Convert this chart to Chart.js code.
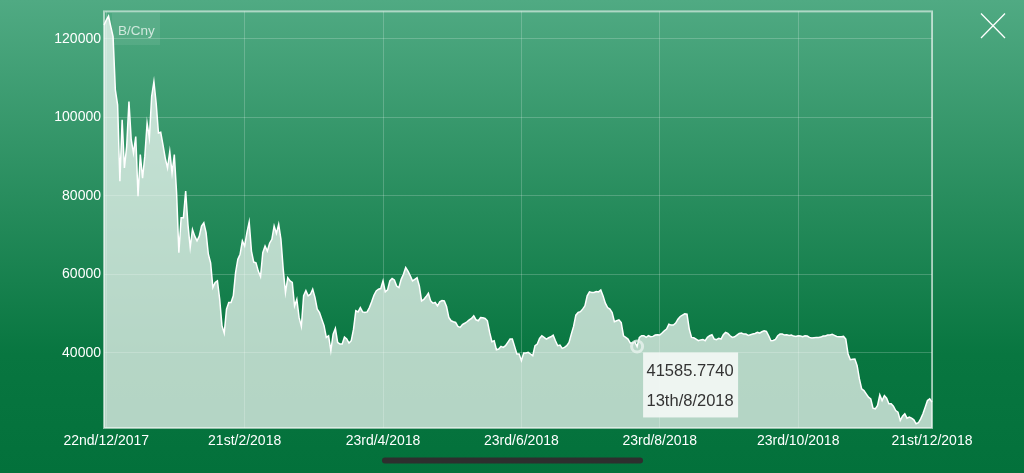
<!DOCTYPE html>
<html>
<head>
<meta charset="utf-8">
<script src="https://cdn.jsdelivr.net/npm/chart.js@4.4.0/dist/chart.umd.min.js"></script>
<style>
html, body { margin: 0; padding: 0; }
body {
    width: 1024px; height: 473px; overflow: hidden;
    background: linear-gradient(to bottom, #50aa83 0%, #087640 75%, #03713b 100%);
}
#wrap { position: relative; width: 1024px; height: 473px; }
</style>
</head>
<body>
<div id="wrap"><canvas id="myChart"></canvas></div>
<script>
// 일별 가격 (B/Cny), 21/12/2017 부터 하루씩
const prices = [
    123500, 124800, 125800, 123100, 120600, 107000, 103200, 83700, 99400, 87100,
    92600, 104000, 94300, 90900, 95100, 79900, 90500, 84500, 90100, 98500,
    94700, 105300, 109100, 103600, 96000, 96200, 93000, 89600, 87100, 91300,
    85800, 90500, 80700, 65500, 74400, 74400, 81200, 72700, 66800, 71400,
    69700, 68500, 69700, 72300, 73100, 70600, 65100, 62900, 56600, 57900,
    58300, 53600, 46900, 45000, 51100, 52800, 52800, 54500, 60400, 63800,
    65100, 68500, 67200, 70600, 73300, 65900, 63100, 62900, 60800, 59400,
    65500, 67200, 65900, 67900, 68900, 72300, 70400, 72700, 68900, 61300,
    55300, 59100, 58300, 57900, 51900, 53600, 49000, 46700, 54500, 55800,
    54500, 54900, 56200, 54100, 51100, 50200, 48550, 46900, 43900, 44300,
    40500, 44700, 46200, 42600, 42200, 42200, 44000, 43500, 42450, 43050,
    46000, 50700, 50400, 51500, 50400, 50250, 50400, 51500, 52960, 54650,
    55750, 56180, 56350, 58300, 55500, 56000, 58300, 58900, 58550, 57000,
    56600, 58700, 60000, 61700, 60800, 59600, 58300, 58700, 59100, 57000,
    53200, 53600, 54300, 55150, 53200, 52620, 52800, 51950, 52960, 53300,
    53200, 51770, 48980, 48130, 47880, 47700, 46690, 46440, 47150, 47500,
    47880, 48380, 48720, 49400, 48380, 48130, 48980, 48890, 48720, 48130,
    45170, 42790, 43050, 40760, 40930, 41610, 41350, 41780, 42620, 43470,
    43470, 41610, 39660, 39660, 37970, 39910, 39910, 40080, 39660, 39240,
    41780, 42200, 43640, 44320, 43900, 43470, 43810, 44060, 44490, 43050,
    41780, 41950, 41100, 41350, 41780, 42620, 44740, 46690, 49570, 50250,
    50460, 51100, 51950, 54480, 55500, 55330, 55330, 55580, 55500, 56000,
    54480, 52620, 51520, 51100, 50250, 47880, 48130, 48380, 47700, 44320,
    43900, 43470, 42450, 42450, 42790, 41585.774, 43900, 44320, 44320, 43900,
    44320, 44060, 44150, 44490, 44570, 44490, 45000, 45590, 46010, 47280,
    47030, 47030, 47540, 48550, 49230, 49570, 49910, 49830, 46010, 43900,
    43810, 43470, 43050, 43260, 43380, 43050, 43900, 44320, 44570, 43470,
    43300, 43640, 43470, 44570, 45170, 44910, 44320, 43900, 44060, 44490,
    44910, 45000, 44740, 44740, 44400, 44570, 44740, 44910, 45170, 45000,
    45340, 45590, 45420, 44320, 43050, 43130, 43390, 44320, 44740, 44740,
    44490, 44570, 44400, 44490, 44230, 44150, 44320, 44230, 44060, 44320,
    44230, 43900, 43720, 43810, 43900, 43900, 43980, 44240, 44240, 44490,
    44490, 44660, 44400, 44150, 44060, 44060, 44150, 43470, 39660, 38220,
    38300, 38390, 36700, 33310, 30770, 30340, 29500, 28650, 28230, 25860,
    25690, 26530, 29240, 27800, 29070, 28400, 26960, 26960, 26360, 25260,
    24840, 22720, 23820, 24420, 23310, 23570, 23310, 22890, 21870, 22130,
    23140, 24420, 26110, 27800, 28230, 27380
];

// x축에 보여줄 날짜
const tickLabels = ["22nd/12/2017", "21st/2/2018", "23rd/4/2018", "23rd/6/2018",
                    "23rd/8/2018", "23rd/10/2018", "21st/12/2018"];
// y축 눈금
const yTicks = [40000, 60000, 80000, 100000, 120000];
const yMin = 20800;
const yMax = 127000;

// 선택된 점 (툴팁)
const markDate = "13th/8/2018";
const unitLabel = "B/Cny";

function ordinal(n) {
    if (n % 100 >= 11 && n % 100 <= 13) return n + "th";
    if (n % 10 === 1) return n + "st";
    if (n % 10 === 2) return n + "nd";
    if (n % 10 === 3) return n + "rd";
    return n + "th";
}

// 날짜 라벨 만들기
let labels = [];
for (let i = 0; i < prices.length; i++) {
    let d = new Date(2017, 11, 21 + i);
    labels.push(ordinal(d.getDate()) + "/" + (d.getMonth() + 1) + "/" + d.getFullYear());
}
const markIndex = labels.indexOf(markDate);

const FONT = "'Liberation Sans', Arial, Helvetica, sans-serif";

// 테두리, 단위, 툴팁, 닫기 버튼 그리기
const extras = {
    id: "extras",
    afterDraw(chart) {
        const c = chart.ctx;
        const a = chart.chartArea;
        c.save();

        // 차트 테두리
        c.strokeStyle = "rgba(255,255,255,0.55)";
        c.lineWidth = 2;
        c.strokeRect(a.left, a.top, a.right - a.left, a.bottom - a.top);

        // 단위 박스
        c.fillStyle = "rgba(255,255,255,0.08)";
        c.fillRect(112, 13, 48, 32);
        c.fillStyle = "rgba(255,255,255,0.72)";
        c.font = "13.5px " + FONT;
        c.textBaseline = "middle";
        c.textAlign = "left";
        c.fillText(unitLabel, 118, 31);

        // 툴팁
        const pt = chart.getDatasetMeta(0).data[markIndex];
        const bx = pt.x + 6, by = pt.y + 6;
        c.fillStyle = "rgba(242,247,244,0.93)";
        c.fillRect(bx, by, 95, 65);
        c.fillStyle = "#333";
        c.font = "16.5px " + FONT;
        c.textAlign = "center";
        c.fillText(prices[markIndex].toFixed(4), bx + 47, by + 19);
        c.fillText(markDate, bx + 47, by + 49);

        // 닫기 버튼
        c.strokeStyle = "#fff";
        c.lineWidth = 1.3;
        c.beginPath();
        c.moveTo(981, 13.5); c.lineTo(1005, 38);
        c.moveTo(1005, 13.5); c.lineTo(981, 38);
        c.stroke();

        // 홈 인디케이터
        c.fillStyle = "#2e2e2e";
        c.beginPath();
        c.roundRect(382, 457.5, 261, 6, 3);
        c.fill();

        c.restore();
    }
};

let config = {
    type: "line",
    data: {
        labels: labels,
        datasets: [{
            data: prices,
            borderColor: "#ffffff",
            borderWidth: 1.5,
            backgroundColor: "rgba(255,255,255,0.7)",
            fill: "start",
            tension: 0,
            pointRadius: ctx => ctx.dataIndex === markIndex ? 5.5 : 0,
            pointHoverRadius: 0,
            pointBorderWidth: 3,
            pointBorderColor: "rgba(232,243,237,0.8)",
            pointBackgroundColor: "rgba(0,0,0,0)"
        }]
    },
    options: {
        responsive: true,
        maintainAspectRatio: false,
        animation: false,
        events: [],
        layout: { padding: { top: 9.5, right: 92, bottom: 0, left: 0 } },
        plugins: { legend: { display: false }, tooltip: { enabled: false } },
        scales: {
            x: {
                type: "category",
                offset: false,
                z: 1,
                border: { display: false },
                grid: { color: "rgba(255,255,255,0.2)", drawTicks: false },
                ticks: {
                    autoSkip: false,
                    maxRotation: 0,
                    minRotation: 0,
                    padding: 5,
                    color: "#ffffff",
                    font: { size: 14, family: FONT },
                    callback: function (v, i) {
                        return tickLabels.includes(labels[i]) ? labels[i] : null;
                    }
                },
                afterFit: s => { s.height = 45; }
            },
            y: {
                min: yMin,
                max: yMax,
                z: 1,
                border: { display: false },
                grid: { color: "rgba(255,255,255,0.2)", drawTicks: false },
                afterBuildTicks: s => { s.ticks = yTicks.map(v => ({ value: v })); },
                ticks: {
                    padding: 3,
                    color: "#ffffff",
                    font: { size: 14, family: FONT },
                    callback: v => String(v)
                },
                afterFit: s => { s.width = 104; }
            }
        }
    },
    plugins: [extras]
};

let ctx = document.getElementById("myChart");
new Chart(ctx, config);
</script>
</body>
</html>
